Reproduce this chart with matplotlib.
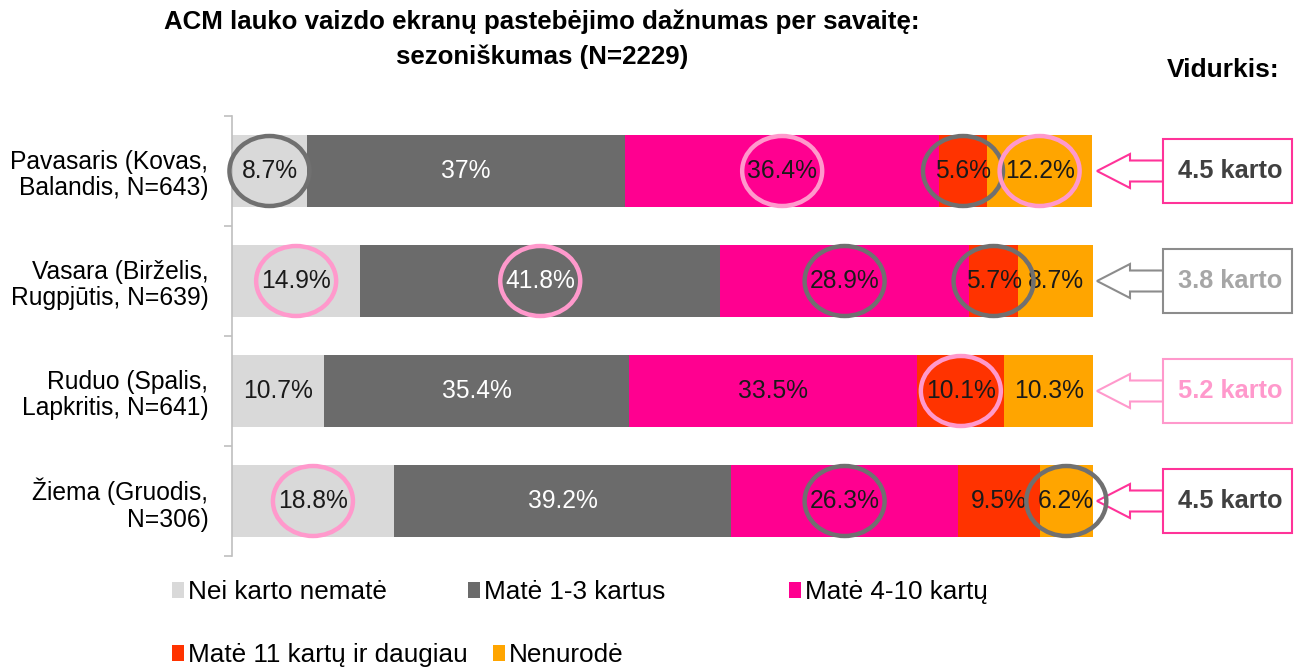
import matplotlib
matplotlib.use("Agg")
import matplotlib.pyplot as plt
from matplotlib.patches import Ellipse, Polygon, Rectangle
import numpy as np

plt.rcParams['font.family'] = ['Liberation Sans', 'DejaVu Sans']

categories = ["Pavasaris (Kovas,\nBalandis, N=643)",
              "Vasara (Birželis,\nRugpjūtis, N=639)",
              "Ruduo (Spalis,\nLapkritis, N=641)",
              "Žiema (Gruodis,\nN=306)"]
series_names = ["Nei karto nematė", "Matė 1-3 kartus", "Matė 4-10 kartų",
                "Matė 11 kartų ir daugiau", "Nenurodė"]
nei = [8.7, 14.9, 10.7, 18.8]
mate_1_3 = [37, 41.8, 35.4, 39.2]
mate_4_10 = [36.4, 28.9, 33.5, 26.3]
mate_11 = [5.6, 5.7, 10.1, 9.5]
nenurode = [12.2, 8.7, 10.3, 6.2]
averages = ["4.5 karto", "3.8 karto", "5.2 karto", "4.5 karto"]

colors = ["#D9D9D9", "#6B6B6B", "#FF0090", "#FF3300", "#FFA500"]
text_colors = ["#1a1a1a", "white", "#1a1a1a", "#1a1a1a", "#1a1a1a"]

GRAY_RING = "#707070"
PINK_RING = "#FF99CC"
# (row, series, ring color)
rings = [(0, 0, GRAY_RING), (0, 2, PINK_RING), (0, 3, GRAY_RING), (0, 4, PINK_RING),
         (1, 0, PINK_RING), (1, 1, PINK_RING), (1, 2, GRAY_RING), (1, 3, GRAY_RING),
         (2, 3, PINK_RING),
         (3, 0, PINK_RING), (3, 2, GRAY_RING), (3, 4, GRAY_RING)]

# callout styles: (edge color, text color)
callout_styles = [("#FF3399", "#404040"), ("#8C8C8C", "#A6A6A6"),
                  ("#FF99CC", "#FF99CC"), ("#FF3399", "#404040")]

W, H = 1294, 670
fig = plt.figure(figsize=(W / 100, H / 100), dpi=100)
ax_l, ax_r, ax_t, ax_b = 232, 1093, 116, 556
ax = fig.add_axes([ax_l / W, 1 - ax_b / H, (ax_r - ax_l) / W, (ax_b - ax_t) / H])

data = np.array([nei, mate_1_3, mate_4_10, mate_11, nenurode], dtype=float)
y = np.arange(len(categories))
left = np.zeros(len(categories))
bars = []
for k in range(data.shape[0]):
    b = ax.barh(y, data[k], left=left, height=0.66, color=colors[k],
                label=series_names[k], zorder=2)
    bars.append(b)
    for i in range(len(categories)):
        ax.text(left[i] + data[k, i] / 2, y[i], f"{data[k, i]:g}%",
                ha="center", va="center", fontsize=17.7, color=text_colors[k], zorder=4)
    left = left + data[k]

ax.set_xlim(0, 100)
ax.set_ylim(3.5, -0.5)

px_per_x = (ax_r - ax_l) / 100.0
px_per_y = (ax_b - ax_t) / 4.0
lefts = np.vstack([np.zeros(len(categories)), np.cumsum(data, axis=0)[:-1]])
for (r, s, c) in rings:
    cx = lefts[s, r] + data[s, r] / 2
    e = Ellipse((cx, r), width=80 / px_per_x, height=70 / px_per_y,
                fill=False, edgecolor=c, linewidth=3.2, zorder=5, clip_on=False)
    ax.add_patch(e)

# axes styling
for sp in ["top", "right", "bottom"]:
    ax.spines[sp].set_visible(False)
ax.spines["left"].set_color("#BFBFBF")
ax.spines["left"].set_linewidth(1.2)
ax.set_xticks([])
ax.set_yticks(y)
ax.set_yticklabels(categories, fontsize=17.7, ha="right", multialignment="right",
                   linespacing=1.15)
ax.tick_params(axis="y", which="major", length=0, pad=17)
ax.set_yticks([-0.5, 0.5, 1.5, 2.5, 3.5], minor=True)
ax.tick_params(axis="y", which="minor", length=6, color="#BFBFBF", width=1.2)

# callouts (arrow + box)
def xd(px):
    return (px - ax_l) / px_per_x

def yd(px):
    return px / px_per_y

for i, (avg, (ec, tc)) in enumerate(zip(averages, callout_styles)):
    tip, head_end, box_l, box_r = xd(1097), xd(1130), xd(1163), xd(1292)
    arrow = Polygon([(tip, i), (head_end, i - yd(17)), (head_end, i - yd(10.5)),
                     (box_l, i - yd(10.5)), (box_l, i + yd(10.5)),
                     (head_end, i + yd(10.5)), (head_end, i + yd(17))],
                    closed=True, facecolor="white", edgecolor=ec, linewidth=1.5,
                    clip_on=False, zorder=3)
    ax.add_patch(arrow)
    box = Rectangle((box_l, i - yd(32)), box_r - box_l, yd(64), facecolor="white",
                    edgecolor=ec, linewidth=1.5, clip_on=False, zorder=3)
    ax.add_patch(box)
    ax.text((box_l + box_r) / 2 + 0.3, i, avg, ha="center", va="center", fontsize=18.3,
            fontweight="bold", color=tc, zorder=4, clip_on=False)

# title
fig.text(542 / W, 1 - 22 / H, "ACM lauko vaizdo ekranų pastebėjimo dažnumas per savaitę:",
         ha="center", va="center", fontsize=18.6, fontweight="bold")
fig.text(542 / W, 1 - 57 / H, "sezoniškumas (N=2229)",
         ha="center", va="center", fontsize=18.6, fontweight="bold")
fig.text(1223 / W, 1 - 70 / H, "Vidurkis:", ha="center", va="center",
         fontsize=19, fontweight="bold")

# legend entries
legend_pos = [(172, 592), (468, 592), (789, 592), (172, 655), (493, 655)]
for k, (lx, ly) in enumerate(legend_pos):
    fig.legend(handles=[bars[k]], labels=[series_names[k]], loc="center left",
               bbox_to_anchor=(lx / W, 1 - ly / H), frameon=False, fontsize=18.8,
               handlelength=0.45, handleheight=0.6, handletextpad=0.15,
               borderpad=0, borderaxespad=0)

fig.savefig("out.png", dpi=100)
